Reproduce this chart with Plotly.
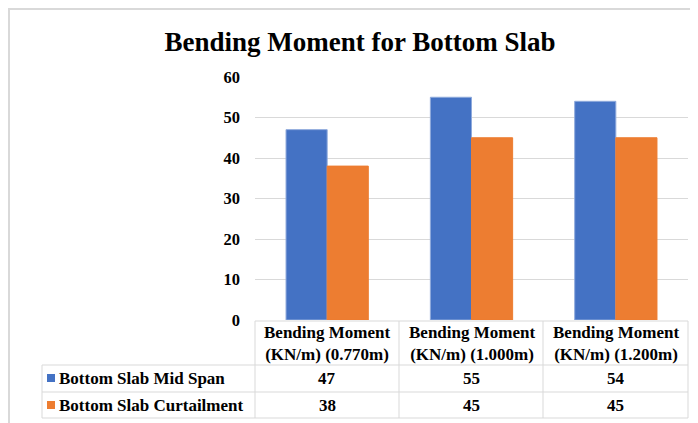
import plotly.graph_objects as go

# data
categories = ["Bending Moment (KN/m) (0.770m)",
              "Bending Moment (KN/m) (1.000m)",
              "Bending Moment (KN/m) (1.200m)"]
series_names = ["Bottom Slab Mid Span", "Bottom Slab Curtailment"]
mid_span = [47, 55, 54]
curtailment = [38, 45, 45]
y_ticks = [0, 10, 20, 30, 40, 50, 60]

colors = ["#4472C4", "#ED7D31"]
FONT = "Liberation Serif, Times New Roman, serif"

# page body has an 8px margin, so the figure is drawn 8px in from the window edge
OFF = 8
FW, FH = 698 - OFF, 423 - OFF
# plot area in window pixels
PL, PR, PT, PB = 255, 688, 77, 320
L, T = PL - OFF, PT - OFF
R, B = FW - (PR - OFF), FH - (PB - OFF)
W, H = PR - PL, PB - PT


def px(x):
    return (x - PL) / W


def py(y):
    return (PB - y) / H


fig = go.Figure()
for name, vals, c, edge in zip(series_names, [mid_span, curtailment], colors,
                                ["#8FAADC", "#ED7D31"]):
    fig.add_trace(go.Bar(x=categories, y=vals, name=name,
                         marker={"color": c, "line": {"color": edge, "width": 1}}))

grid = "#D9D9D9"
shapes = []
# outer chart frame
shapes.append(dict(type="rect", xref="paper", yref="paper", x0=px(OFF + 1), x1=px(720),
                   y0=py(440), y1=py(OFF + 1), line={"color": grid, "width": 2},
                   layer="below"))
# data table lines
for cx in [255, 399, 543, 688]:
    shapes.append(dict(type="line", xref="paper", yref="paper", x0=px(cx), x1=px(cx),
                       y0=py(321), y1=py(418), line={"color": grid, "width": 1}))
shapes.append(dict(type="line", xref="paper", yref="paper", x0=px(42), x1=px(42),
                   y0=py(365), y1=py(418), line={"color": grid, "width": 1}))
shapes.append(dict(type="line", xref="paper", yref="paper", x0=px(255), x1=px(688),
                   y0=py(321), y1=py(321), line={"color": grid, "width": 1}))
for ry in [365, 392, 418]:
    shapes.append(dict(type="line", xref="paper", yref="paper", x0=px(42), x1=px(688),
                       y0=py(ry), y1=py(ry), line={"color": grid, "width": 1}))

annotations = []
tfont = {"family": FONT, "size": 17, "color": "#000000"}
for cat in categories:
    annotations.append(dict(xref="x", yref="paper", x=cat, y=py(343),
                            text="<b>" + cat.replace("Moment ", "Moment<br>", 1) + "</b>",
                            showarrow=False, font=tfont, xanchor="center",
                            yanchor="middle"))
for name, vals, c, ry in zip(series_names, [mid_span, curtailment], colors, [378, 405]):
    shapes.append(dict(type="rect", xref="paper", yref="paper", x0=px(47), x1=px(55),
                       y0=py(ry + 4), y1=py(ry - 4), fillcolor=c, line={"width": 0}))
    annotations.append(dict(xref="paper", yref="paper", x=px(57), y=py(ry),
                            text="<b>" + name + "</b>", showarrow=False, font=tfont,
                            xanchor="left", yanchor="middle"))
    for cat, v in zip(categories, vals):
        annotations.append(dict(xref="x", yref="paper", x=cat, y=py(ry),
                                text="<b>%d</b>" % v, showarrow=False, font=tfont,
                                xanchor="center", yanchor="middle"))

fig.update_layout(
    width=FW, height=FH,
    margin={"l": L, "r": R, "t": T, "b": B},
    paper_bgcolor="white", plot_bgcolor="white",
    barmode="group", bargap=0.43, bargroupgap=0,
    showlegend=False,
    title={"text": "<b>Bending Moment for Bottom Slab</b>", "x": (360 - OFF) / FW,
           "xanchor": "center", "xref": "container", "y": 1 - (42 - OFF) / FH,
           "yanchor": "middle", "yref": "container",
           "font": {"family": FONT, "size": 27, "color": "#000000"}},
    shapes=shapes, annotations=annotations,
)
fig.update_xaxes(showticklabels=False, showgrid=False, showline=False, ticks="")
fig.update_yaxes(range=[0, 60], tickvals=y_ticks, showgrid=True, gridcolor=grid,
                 gridwidth=1, zeroline=False, showline=False,
                 tickfont={"family": FONT, "size": 16.5, "color": "#000000",
                           "weight": "bold"},
                 ticklabelstandoff=14)

fig.write_html("out.html")
